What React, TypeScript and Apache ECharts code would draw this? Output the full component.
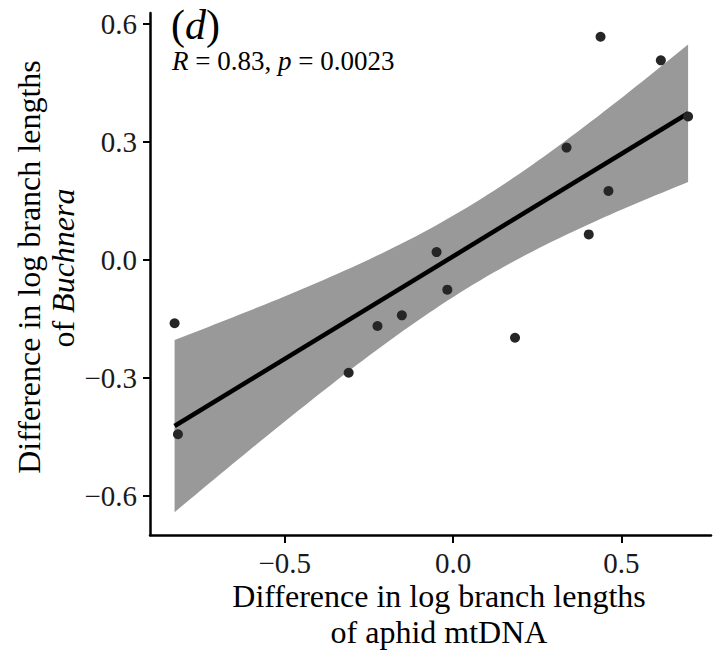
import React, { useEffect, useRef } from "react";
import * as echarts from "echarts";

// Observed points (difference in log branch lengths)
const mtDNA = [-0.827, -0.817, -0.31, -0.2245, -0.152, -0.049, -0.017, 0.184, 0.337, 0.403, 0.438, 0.4615, 0.617, 0.698];
const buchnera = [-0.161, -0.4435, -0.287, -0.168, -0.141, 0.02, -0.0756, -0.198, 0.286, 0.065, 0.568, 0.1756, 0.508, 0.365];

const xTicks = [-0.5, 0, 0.5];
const yTicks = [-0.6, -0.3, 0, 0.3, 0.6];

const T_975_DF12 = 2.179; // Student t quantile for the 95% band, n - 2 = 12

const FONT = "Liberation Serif";

function fmt(v: number) {
  return (v < 0 ? "\u2212" : "") + Math.abs(v).toFixed(1);
}

export default function App() {
  const ref = useRef<HTMLDivElement>(null);

  useEffect(() => {
    if (!ref.current) return;
    const chart = echarts.init(ref.current, undefined, { renderer: "svg" });

    // linear model fit (as geom_smooth(method = "lm"))
    const n = mtDNA.length;
    const mx = mtDNA.reduce((a, b) => a + b, 0) / n;
    const my = buchnera.reduce((a, b) => a + b, 0) / n;
    let sxx = 0, sxy = 0, syy = 0;
    for (let i = 0; i < n; i++) {
      const dx = mtDNA[i] - mx;
      const dy = buchnera[i] - my;
      sxx += dx * dx;
      sxy += dx * dy;
      syy += dy * dy;
    }
    const slope = sxy / sxx;
    const intercept = my - slope * mx;
    const s = Math.sqrt((syy - (sxy * sxy) / sxx) / (n - 2));
    const xmin = Math.min(...mtDNA);
    const xmax = Math.max(...mtDNA);
    const steps = 80;
    const upper: number[][] = [];
    const lower: number[][] = [];
    for (let i = 0; i < steps; i++) {
      const x = xmin + ((xmax - xmin) * i) / (steps - 1);
      const yhat = intercept + slope * x;
      const se = s * Math.sqrt(1 / n + ((x - mx) * (x - mx)) / sxx);
      upper.push([x, yhat + T_975_DF12 * se]);
      lower.push([x, yhat - T_975_DF12 * se]);
    }
    const fitLine = [
      [xmin, intercept + slope * xmin],
      [xmax, intercept + slope * xmax],
    ];

    const axisLineStyle = { color: "#000", width: 2.5 };
    const labelRich = (size: number, lh: number) => ({
      n: { fontFamily: FONT, fontSize: size, lineHeight: lh, fill: "#000", color: "#000" },
      i: { fontFamily: FONT, fontSize: size, lineHeight: lh, fontStyle: "italic", fill: "#000", color: "#000" },
    });

    chart.setOption({
      animation: false,
      textStyle: { fontFamily: FONT },
      grid: { left: 150, right: 15, top: 13, bottom: 122, containLabel: false },
      xAxis: {
        type: "value",
        min: -0.9,
        max: 0.766,
        axisLine: { show: true, onZero: false, lineStyle: axisLineStyle },
        axisTick: { show: true, customValues: xTicks, length: 8, lineStyle: { color: "#000", width: 2 } },
        axisLabel: {
          customValues: xTicks,
          formatter: (v: number) => fmt(v),
          fontFamily: FONT,
          fontSize: 29,
          lineHeight: 22,
          color: "#1a1a1a",
          margin: 17,
        },
        splitLine: { show: false },
      },
      yAxis: {
        type: "value",
        min: -0.7,
        max: 0.6285,
        axisLine: { show: true, onZero: false, lineStyle: axisLineStyle },
        axisTick: { show: true, customValues: yTicks, length: 7, lineStyle: { color: "#000", width: 2 } },
        axisLabel: {
          customValues: yTicks,
          formatter: (v: number) => fmt(v),
          fontFamily: FONT,
          fontSize: 29,
          color: "#1a1a1a",
          margin: 13,
        },
        splitLine: { show: false },
      },
      series: [
        {
          type: "custom",
          z: 1,
          clip: true,
          data: [[xmin, 0]],
          renderItem: (_params: any, api: any) => {
            const pts = [
              ...upper.map((p) => api.coord(p)),
              ...lower.slice().reverse().map((p) => api.coord(p)),
            ];
            return {
              type: "polygon",
              shape: { points: pts },
              style: { fill: "#999999" },
            };
          },
          silent: true,
        },
        {
          type: "line",
          z: 2,
          data: fitLine,
          symbol: "none",
          lineStyle: { color: "#000", width: 4.5 },
          silent: true,
        },
        {
          type: "scatter",
          z: 3,
          data: mtDNA.map((x, i) => [x, buchnera[i]]),
          symbolSize: 10,
          itemStyle: { color: "#262626", opacity: 1 },
        },
      ],
      graphic: [
        {
          type: "text",
          x: 171,
          y: 25,
          style: {
            text: "{n|(}{i|d}{n|)}",
            fontFamily: FONT,
            fontSize: 42,
            fill: "#000",
            verticalAlign: "middle",
            rich: labelRich(42, 36),
          },
        },
        {
          type: "text",
          x: 172,
          y: 61,
          style: {
            text: "{i|R}{n| = 0.83, }{i|p}{n| = 0.0023}",
            fontFamily: FONT,
            fontSize: 27,
            fill: "#000",
            verticalAlign: "middle",
            rich: labelRich(27, 28),
          },
        },
        {
          type: "text",
          x: 439,
          y: 596,
          style: {
            text: "Difference in log branch lengths",
            fontFamily: FONT,
            fontSize: 32,
            lineHeight: 30,
            fill: "#000",
            align: "center",
            verticalAlign: "middle",
          },
        },
        {
          type: "text",
          x: 439,
          y: 632,
          style: {
            text: "of aphid mtDNA",
            fontFamily: FONT,
            fontSize: 32,
            lineHeight: 30,
            fill: "#000",
            align: "center",
            verticalAlign: "middle",
          },
        },
        {
          type: "text",
          x: 29,
          y: 267,
          rotation: Math.PI / 2,
          style: {
            text: "Difference in log branch lengths",
            fontFamily: FONT,
            fontSize: 32,
            lineHeight: 30,
            fill: "#000",
            align: "center",
            verticalAlign: "middle",
          },
        },
        {
          type: "text",
          x: 63,
          y: 268,
          rotation: Math.PI / 2,
          style: {
            text: "{n|of }{i|Buchnera}",
            fontFamily: FONT,
            fontSize: 32,
            fill: "#000",
            align: "center",
            verticalAlign: "middle",
            rich: labelRich(32, 30),
          },
        },
      ],
    });

    return () => chart.dispose();
  }, []);

  return <div ref={ref} style={{ width: 726, height: 657, position: "absolute", left: 0, top: 0 }} />;
}
